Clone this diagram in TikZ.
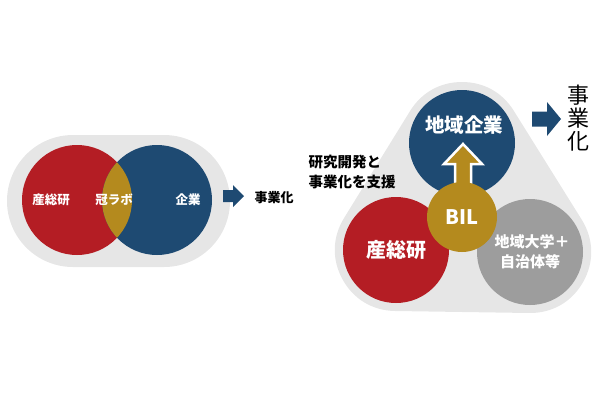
\documentclass[tikz,border=0pt]{standalone}
\usepackage{fontspec}
\newfontfamily\jp{Noto Sans CJK JP}
\definecolor{bgray}{HTML}{E6E6E6}
\definecolor{cred}{HTML}{B41D24}
\definecolor{cblue}{HTML}{1E4A72}
\definecolor{cgold}{HTML}{B48A1E}
\definecolor{cgray}{HTML}{9D9D9D}
\tikzset{
  disc/.style={circle, inner sep=0pt, text=white, align=center},
  wlab/.style={text=white, font=\jp\bfseries\fontsize{12.5}{14}\selectfont},
  blab/.style={text=black, font=\jp\bfseries\fontsize{13}{15}\selectfont},
  barrow/.style={fill=cblue},
}
\begin{document}
\begin{tikzpicture}[x=1pt,y=-1pt]
\useasboundingbox (0,0) rectangle (600,400);
% ---------- left part ----------
\fill[bgray, rounded corners=66pt] (7,135) rectangle (230,267);
\node[disc, fill=cred, minimum size=110pt] (lred) at (77,200) {};
\node[disc, fill=cblue, minimum size=110pt] (lblue) at (157,200) {};
\begin{scope}
  \clip (77,200) circle[radius=55pt];
  \fill[cgold] (157,200) circle[radius=55pt];
\end{scope}
\node[wlab] (t1) at (51,200) {産総研};
\node[wlab] (t2) at (114,200) {冠ラボ};
\node[wlab] (t3) at (188,200) {企業};
\coordinate (la) at (223,196);
\fill[barrow] (la) ++(0,-6) -- ++(10,0) -- ++(0,-5) -- ++(11,11) -- ++(-11,11) -- ++(0,-5) -- ++(-10,0) -- cycle;
\node[blab, anchor=west] (t4) at (251,198) {事業化};
% ---------- right part ----------
\coordinate (cb) at (462,143);
\coordinate (cr) at (396,250);
\coordinate (cg) at (530,252);
\filldraw[bgray, line width=122pt, line join=round] (cb) -- (cr) -- (cg) -- cycle;
\node[disc, fill=cred, minimum size=106pt, font=\jp\bfseries\fontsize{20}{22}\selectfont] (rred) at (cr) {産総研};
\node[disc, fill=cgray, minimum size=106pt, font=\jp\bfseries\fontsize{15}{20}\selectfont] (rgray) at (cg) {\hspace*{4pt}地域大学＋\\自治体等};
\node[disc, fill=cblue, minimum size=106pt] (rblue) at (cb) {};
\node[text=white, font=\jp\bfseries\fontsize{19.5}{22}\selectfont] (t5) at (464,125) {地域企業};
\coordinate (ua) at (463,144);
\filldraw[fill=cgold, draw=white, line width=2.5pt, line join=miter]
  (ua) -- (482,164) -- (471,164) -- (471,205) -- (455,205) -- (455,164) -- (444,164) -- cycle;
\node[disc, fill=cgold, minimum size=70pt, font=\jp\bfseries\fontsize{20}{22}\selectfont] (bil) at (462,217) {BIL};
\coordinate (ra) at (532,119);
\fill[barrow] (ra) ++(0,-7.5) -- ++(15,0) -- ++(0,-9.5) -- ++(14,17) -- ++(-14,17) -- ++(0,-9.5) -- ++(-15,0) -- cycle;
\node[text=black, font=\jp\fontsize{22}{22.8}\selectfont, align=center] (t6) at (578,118) {事\\業\\化};
\node[text=black, font=\jp\bfseries\fontsize{14.5}{20}\selectfont, align=left, anchor=west] (t7) at (305,172) {研究開発と\\事業化を支援};
\end{tikzpicture}
\end{document}
